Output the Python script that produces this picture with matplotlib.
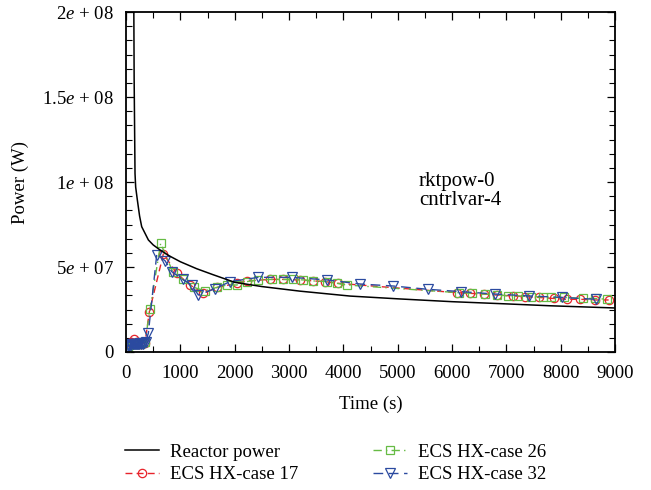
import matplotlib
matplotlib.use("Agg")
import matplotlib.pyplot as plt
from matplotlib.ticker import MultipleLocator, FixedLocator, FixedFormatter

plt.rcParams['font.family'] = ['Liberation Serif', 'DejaVu Serif']
plt.rcParams['mathtext.fontset'] = 'custom'
plt.rcParams['mathtext.rm'] = 'Liberation Serif'
plt.rcParams['mathtext.it'] = 'Liberation Serif:italic'

# ---- data ----
t_reactor = [0, 100, 140, 150, 166, 178, 209, 250, 289, 412, 500, 627, 800, 1000,
             1300, 1600, 2000, 2500, 3200, 4125, 5046, 6000, 7000, 7800, 9000]
p_reactor = [5.0e8, 3.0e8, 2.3e8, 1.6e8, 1.05e8, 0.97e8, 0.894e8, 0.80e8, 0.737e8,
             0.659e8, 0.63e8, 0.60e8, 0.565e8, 0.531e8, 0.49e8, 0.455e8, 0.41e8,
             0.385e8, 0.358e8, 0.329e8, 0.312e8, 0.296e8, 0.283e8, 0.272e8, 0.259e8]

t_c17 = [0, 30, 60, 100, 150, 200, 250, 300, 350, 430, 688, 933, 1179, 1424, 1682,
         2038, 2224, 2652, 2897, 3204, 3450, 3665, 3910, 6090, 6335, 6580, 6826,
         7120, 7348, 7593, 7869, 8115, 8361, 8637, 8883]
p_c17 = [0.1, 0.3, 0.5, 0.6, 0.75, 0.6, 0.45, 0.5, 0.55, 2.37, 5.77, 4.63, 3.94, 3.45,
         3.80, 4.04, 4.18, 4.27, 4.27, 4.24, 4.18, 4.14, 4.04, 3.49, 3.45, 3.41, 3.35,
         3.30, 3.25, 3.21, 3.15, 3.10, 3.10, 3.06, 3.06]

t_c26 = [0, 30, 60, 100, 150, 200, 250, 300, 350, 442, 638, 859, 1044, 1252, 1450,
         1670, 1854, 2038, 2222, 2437, 2683, 2897, 3081, 3265, 3450, 3695, 3879, 4063,
         6120, 6365, 6610, 6826, 7026, 7210, 7456, 7670, 7824, 8070, 8407, 8637, 8852]
p_c26 = [0.1, 0.3, 0.4, 0.5, 0.5, 0.45, 0.5, 0.55, 0.6, 2.51, 6.39, 4.73, 4.27, 3.80,
         3.60, 3.80, 3.94, 3.94, 4.14, 4.24, 4.27, 4.27, 4.27, 4.24, 4.18, 4.14, 4.04,
         3.94, 3.49, 3.45, 3.41, 3.38, 3.30, 3.30, 3.25, 3.25, 3.21, 3.21, 3.15, 3.15,
         3.10]

t_c32 = [0, 20, 40, 60, 80, 100, 120, 140, 160, 180, 200, 220, 240, 260, 280, 300,
         320, 340, 360, 411, 565, 718, 841, 1044, 1209, 1332, 1639, 1915, 2437, 3051,
         3695, 4309, 4923, 5550, 6170, 6796, 7410, 8024, 8650]
p_c32 = [0.1, 0.3, 0.4, 0.35, 0.45, 0.4, 0.5, 0.45, 0.5, 0.45, 0.5, 0.45, 0.5, 0.55,
         0.5, 0.55, 0.5, 0.55, 0.6, 1.1, 5.71, 5.37, 4.73, 4.27, 3.94, 3.35, 3.73, 4.14,
         4.39, 4.39, 4.24, 4.0, 3.88, 3.69, 3.55, 3.41, 3.30, 3.21, 3.10]

y_ticks = [0, 5e7, 1e8, 1.5e8, 2e8]
y_ticklabels = ["0", "5$e$ + 07", "1$e$ + 08", "1.5$e$ + 08", "2$e$ + 08"]
x_ticks = [0, 1000, 2000, 3000, 4000, 5000, 6000, 7000, 8000, 9000]

RED = '#e8232b'
GREEN = '#66bb44'
BLUE = '#2b4aa0'
FS = 13.5

fig = plt.figure(figsize=(6.51, 4.90), dpi=100)
ax = fig.add_axes([126/651, 1-352/490, 489/651, 340/490])

ax.plot(t_reactor, p_reactor, color='black', lw=1.1, label='Reactor power', zorder=3)
ax.plot(t_c17, [v*1e7 for v in p_c17], color=RED, lw=1.0, dashes=(5, 3),
        marker='o', ms=6, mfc='none', mec=RED, mew=0.9, label='ECS HX-case 17')
ax.plot(t_c26, [v*1e7 for v in p_c26], color=GREEN, lw=1.0, dashes=(6, 3, 1, 3),
        marker='s', ms=5.5, mfc='none', mec=GREEN, mew=0.9, label='ECS HX-case 26')
ax.plot(t_c32, [v*1e7 for v in p_c32], color=BLUE, lw=1.0, dashes=(7, 4),
        marker='v', ms=6.5, mfc='none', mec=BLUE, mew=0.9, label='ECS HX-case 32')

ax.set_xlim(0, 9000)
ax.set_ylim(0, 2e8)
ax.xaxis.set_major_locator(FixedLocator(x_ticks))
ax.xaxis.set_minor_locator(MultipleLocator(500))
ax.yaxis.set_major_locator(FixedLocator(y_ticks))
ax.yaxis.set_major_formatter(FixedFormatter(y_ticklabels))
ax.yaxis.set_minor_locator(MultipleLocator(5e7/6))
ax.tick_params(which='both', direction='in', top=True, right=True, labelsize=FS)
ax.tick_params(which='major', length=6, width=0.9)
ax.tick_params(which='minor', length=4, width=0.8)
ax.tick_params(axis='x', which='major', pad=9)
ax.tick_params(axis='y', which='major', pad=9)
for s in ax.spines.values():
    s.set_linewidth(1.3)

ax.set_xlabel('Time (s)', fontsize=FS, labelpad=10)
ax.set_ylabel('Power (W)', fontsize=FS, labelpad=9)

ax.text(5390, 0.947e8, 'rktpow-0\ncntrlvar-4', fontsize=15, va='center', ha='left',
        linespacing=1.0)

fig.legend(loc='center', bbox_to_anchor=(0.515, 0.054), ncol=2, frameon=False,
           fontsize=FS, handlelength=1.85, handletextpad=0.55, columnspacing=4.0,
           labelspacing=0.3, numpoints=1)

fig.savefig('out.png', dpi=100)
